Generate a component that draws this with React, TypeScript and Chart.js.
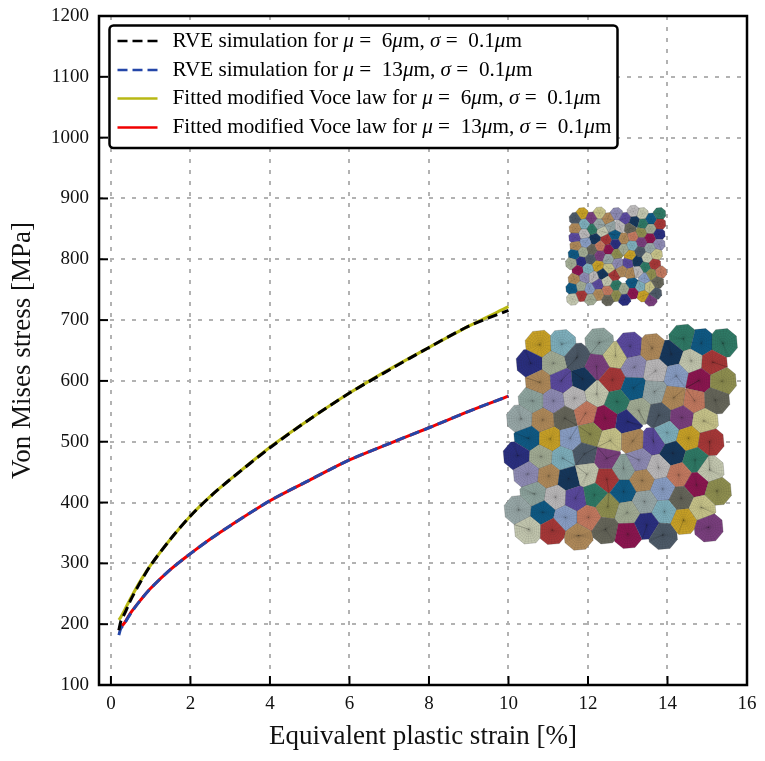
import React, { useEffect, useRef } from "react";
import { Chart, registerables } from "chart.js";

Chart.register(...registerables);

const SERIF = '"Liberation Serif", serif';

const strain = [0.2, 0.25, 0.35, 0.5, 0.75, 1, 1.5, 2, 2.5, 3, 4, 5, 6, 7, 8, 9, 10];
const rve6 = [190, 205, 218, 240, 270, 297, 340, 378, 410, 438, 490, 537, 580, 618, 655, 690, 716];
const rve13 = [182, 193, 202, 218, 240, 259, 290, 316, 340, 362, 403, 437, 470, 497, 523, 550, 575];
const voce6 = [207, 212, 224, 243, 272, 297, 340, 378, 410, 438, 491, 537, 580, 619, 655, 690, 722];
const voce13 = [190, 195, 203, 219, 240, 259, 290, 316, 340, 362, 403, 437, 470, 497, 523, 550, 575];

const seriesLabels = [
  "RVE simulation for μ =  6μm, σ =  0.1μm",
  "RVE simulation for μ =  13μm, σ =  0.1μm",
  "Fitted modified Voce law for μ =  6μm, σ =  0.1μm",
  "Fitted modified Voce law for μ =  13μm, σ =  0.1μm",
];

const xTitle = "Equivalent plastic strain [%]";
const yTitle = "Von Mises stress [MPa]";

const Y = "#c9a227", LB = "#7fb0bd", SG = "#8fa59f", SL = "#4d5a68", KH = "#c8c48a", PU = "#5b4a9f";
const TA = "#b08a5a", GR = "#2f7a66", BL = "#0f5a85", NV = "#2a2f80", SA = "#a3ad95", PM = "#7a3f7e";
const LV = "#8f8cb5", LG = "#bcbabb", DN = "#15375c", PA = "#c4c8b0", RD = "#a83838", PE = "#8a9fc6";
const MR = "#8c1550", OL = "#8f8f50", SM = "#c47a60", DO = "#66665a", GY = "#98a8a8";

// Mosaic cells: [across, down, colour], in units of a third of a pixel.
const bigCells: [number, number, string][] = [
  [181,465,Y],[247,463,LB],[360,458,SG],[292,503,SL],[408,497,KH],[452,470,PU],[518,475,TA],[612,447,GR],[665,460,BL],[730,460,GR],
  [154,520,NV],[222,520,SA],[351,530,PM],[465,532,LV],[528,543,LG],[575,492,DN],[635,513,PA],[700,517,RD],
  [181,577,TA],[245,573,PU],[310,567,DN],[398,570,RD],[462,594,BL],[590,558,PE],[658,572,MR],[727,574,OL],[525,605,GY],
  [160,633,SG],[222,633,LV],[285,625,LG],[352,612,PA],[412,635,GR],[583,623,TA],[645,632,SM],[707,630,DO],[478,662,SA],[538,676,SL],
  [125,687,GY],[190,690,TA],[256,685,DO],[318,670,SM],[377,685,MR],[445,695,NV],[607,683,PM],[673,693,KH],
  [147,745,BL],[212,747,Y],[272,745,PE],[332,733,OL],[392,752,KH],[460,753,TA],[522,755,PU],[562,728,LB],[627,745,Y],[690,755,RD],
  [115,797,NV],[185,800,SA],[250,805,LB],[315,792,SL],[382,805,PM],[478,810,LV],[580,790,DN],[647,810,GR],[432,835,SG],[537,833,LG],[598,855,SM],[690,840,PA],
  [145,852,LV],[208,858,TA],[268,866,DN],[322,853,PA],[382,868,RD],[488,872,TA],[550,897,PE],[651,885,MR],
  [165,912,SG],[228,922,LG],[288,925,PU],[345,915,GR],[385,950,OL],[432,905,BL],[495,935,GY],[605,925,DO],[712,903,OL],
  [118,960,GY],[190,967,BL],[258,983,PE],[327,983,SM],[443,968,SA],[555,965,LB],[665,953,KH],
  [148,1018,PA],[218,1020,RD],[297,1037,TA],[378,1018,DO],[445,1032,MR],[502,1005,NV],[550,1035,SL],[612,990,Y],[687,1012,PM],
];

const smallCells: [number, number, string][] = [
  [308,72,Y],[360,70,KH],[411,72,LV],[462,65,LG],[488,72,PA],[540,72,GR],
  [288,86,SL],[335,85,PM],[385,87,TA],[437,86,PU],[465,95,DN],[490,102,GR],[515,88,BL],[540,102,RD],
  [315,103,LB],[358,104,GY],[395,110,GY],[288,116,TA],[338,118,GR],[368,125,PA],[420,110,LG],[452,115,DO],[486,128,OL],[513,117,SA],[538,133,NV],
  [287,143,PU],[314,132,LG],[347,147,DN],[380,150,RD],[406,135,BL],[433,147,TA],[460,140,SM],[486,157,PM],[512,145,MR],[538,163,LV],
  [290,168,TA],[318,158,PE],[337,180,DO],[362,168,SM],[388,178,MR],[408,162,NV],[432,178,SA],[458,167,LB],[482,185,SL],[512,175,GY],
  [285,193,BL],[311,187,SA],[360,198,PM],[387,208,GY],[412,192,OL],[452,196,Y],[503,203,PA],[530,193,KH],
  [277,220,SA],[305,215,NV],[333,207,SL],[355,228,Y],[388,235,KH],[415,220,LV],[445,220,PU],[474,214,DN],[497,232,GR],[525,223,RD],
  [296,241,MR],[325,237,LB],[342,262,LG],[315,263,LV],[370,252,DN],[403,257,RD],[427,243,TA],[453,250,TA],[476,245,LG],[495,265,PE],[516,253,OL],[543,247,SM],
  [285,268,TA],[305,290,SA],[330,297,PE],[355,283,PU],[383,274,PA],[408,287,GR],[433,298,SA],[458,280,BL],[483,290,LB],[510,292,KH],[534,277,DO],
  [278,296,BL],[280,327,PA],[307,316,RD],[333,327,SA],[358,313,TA],[385,303,SM],[385,329,DO],[410,316,OL],[435,328,NV],[460,309,MR],[491,317,Y],[514,330,PM],[528,310,SL],
];

type Pt = [number, number];

function clipHalf(poly: Pt[], a: Pt, b: Pt): Pt[] {
  const mx = (a[0] + b[0]) / 2, my = (a[1] + b[1]) / 2;
  const nx = b[0] - a[0], ny = b[1] - a[1];
  const side = (p: Pt) => (p[0] - mx) * nx + (p[1] - my) * ny;
  const out: Pt[] = [];
  for (let i = 0; i < poly.length; i++) {
    const p = poly[i], q = poly[(i + 1) % poly.length];
    const sp = side(p), sq = side(q);
    if (sp <= 0) out.push(p);
    if (sp * sq < 0) {
      const t = sp / (sp - sq);
      out.push([p[0] + (q[0] - p[0]) * t, p[1] + (q[1] - p[1]) * t]);
    }
  }
  return out;
}

function drawMosaic(ctx: CanvasRenderingContext2D, ox: number, oy: number, cells: [number, number, string][], radius: number, rings: number, spokes: number) {
  const s = 1 / 3;
  ctx.save();
  cells.forEach(([cx, cy, colour], idx) => {
    let poly: Pt[] = [];
    for (let k = 0; k < 8; k++) {
      const a = (k / 8) * Math.PI * 2 + 0.3;
      poly.push([cx + Math.cos(a) * radius, cy + Math.sin(a) * radius]);
    }
    cells.forEach(([ox2, oy2], j) => {
      if (j !== idx) poly = clipHalf(poly, [cx, cy], [ox2, oy2]);
    });
    if (poly.length < 3) return;
    const px = (p: Pt): Pt => [ox + p[0] * s, oy + p[1] * s];
    ctx.beginPath();
    poly.forEach((p, i) => {
      const [x, y] = px(p);
      if (i) ctx.lineTo(x, y); else ctx.moveTo(x, y);
    });
    ctx.closePath();
    ctx.fillStyle = colour;
    ctx.fill();
    ctx.strokeStyle = "rgba(30,30,30,0.4)";
    ctx.lineWidth = 0.5;
    ctx.stroke();
    ctx.strokeStyle = "rgba(20,20,20,0.2)";
    ctx.lineWidth = 0.4;
    for (let r = 1; r <= rings; r++) {
      const f = r / (rings + 1);
      ctx.beginPath();
      poly.forEach((p, i) => {
        const [x, y] = px([cx + (p[0] - cx) * f, cy + (p[1] - cy) * f]);
        if (i) ctx.lineTo(x, y); else ctx.moveTo(x, y);
      });
      ctx.closePath();
      ctx.stroke();
    }
    ctx.beginPath();
    poly.forEach((p, i) => {
      const q = poly[(i + 1) % poly.length];
      for (let k = 0; k < spokes; k++) {
        const t = k / spokes;
        const [x0, y0] = px([cx, cy]);
        const [x1, y1] = px([p[0] + (q[0] - p[0]) * t, p[1] + (q[1] - p[1]) * t]);
        ctx.moveTo(x0, y0);
        ctx.lineTo(x1, y1);
      }
    });
    ctx.stroke();
  });
  ctx.restore();
}

const mosaicPlugin = {
  id: "mosaic",
  beforeDatasetsDraw(chart: any) {
    const { ctx, scales } = chart;
    // the crop origin of the cell tables, given in axis units
    const ox = scales.x.getPixelForValue(9.271);
    const oy = scales.y.getPixelForValue(914);
    drawMosaic(ctx, ox, oy, smallCells, 20, 1, 1);
    drawMosaic(ctx, ox, oy, bigCells, 46, 5, 3);
  },
};

const framePlugin = {
  id: "frame",
  afterDatasetsDraw(chart: any) {
    const { ctx, chartArea: a, scales } = chart;
    ctx.save();
    ctx.strokeStyle = "#000";
    ctx.lineWidth = 2;
    scales.x.ticks.forEach((t: any) => {
      const x = scales.x.getPixelForValue(t.value);
      ctx.beginPath();
      ctx.moveTo(x, a.bottom);
      ctx.lineTo(x, a.bottom - 9);
      ctx.stroke();
    });
    scales.y.ticks.forEach((t: any) => {
      const y = scales.y.getPixelForValue(t.value);
      ctx.beginPath();
      ctx.moveTo(a.left, y);
      ctx.lineTo(a.left + 9, y);
      ctx.stroke();
    });
    ctx.lineWidth = 2.5;
    ctx.strokeRect(a.left, a.top, a.right - a.left, a.bottom - a.top);
    ctx.restore();
  },
};

const legendPlugin = {
  id: "boxLegend",
  afterDraw(chart: any) {
    const { ctx } = chart;
    const a = chart.chartArea;
    const left = a.left + 10.5, top = a.top + 9.5, w = 508, h = 122.5;
    ctx.save();
    ctx.beginPath();
    ctx.roundRect(left, top, w, h, 4);
    ctx.fillStyle = "#fff";
    ctx.fill();
    ctx.strokeStyle = "#000";
    ctx.lineWidth = 2.5;
    ctx.stroke();
    const rows = [top + 15.5, top + 44.5, top + 73, top + 102];
    chart.data.datasets.forEach((ds: any, i: number) => {
      const y = rows[i];
      ctx.beginPath();
      ctx.setLineDash(ds.borderDash || []);
      ctx.strokeStyle = ds.borderColor;
      ctx.lineWidth = 2.5;
      ctx.moveTo(left + 8, y);
      ctx.lineTo(left + 48, y);
      ctx.stroke();
      ctx.setLineDash([]);
      let x = left + 63;
      ctx.fillStyle = "#000";
      ctx.textBaseline = "middle";
      ctx.textAlign = "left";
      ds.label.split(/([μσ])/).forEach((part: string) => {
        if (!part) return;
        ctx.font = (part === "μ" || part === "σ" ? "italic " : "") + `21.2px ${SERIF}`;
        ctx.fillText(part, x, y);
        x += ctx.measureText(part).width;
      });
    });
    ctx.restore();
  },
};

export default function App() {
  const ref = useRef<HTMLCanvasElement | null>(null);
  useEffect(() => {
    document.body.style.margin = "0";
    document.body.style.background = "#fff";
    const line = (label: string, data: number[], color: string, dash: number[]) => ({
      label,
      data: data.map((v, i) => ({ x: strain[i], y: v })),
      borderColor: color,
      borderWidth: 3,
      borderDash: dash,
      pointRadius: 0,
      tension: 0.3,
      fill: false,
    });
    const chart = new Chart(ref.current as HTMLCanvasElement, {
      type: "line",
      data: {
        datasets: [
          line(seriesLabels[0], rve6, "#000000", [10, 5]),
          line(seriesLabels[1], rve13, "#2446a8", [10, 5]),
          line(seriesLabels[2], voce6, "#b8b814", []),
          line(seriesLabels[3], voce13, "#f00000", []),
        ],
      },
      options: {
        responsive: false,
        animation: false,
        devicePixelRatio: 1,
        layout: { padding: { top: 16, right: 18, left: 0, bottom: 0 } },
        plugins: { legend: { display: false }, tooltip: { enabled: false } },
        scales: {
          x: {
            type: "linear",
            min: -0.3,
            max: 16,
            afterFit: (s: any) => { s.height = 76; s.paddingLeft = 0; s.paddingRight = 0; },
            grid: { color: "#b2b2b2", lineWidth: 2, drawTicks: false },
            border: { display: false, dash: [4, 7] },
            ticks: { stepSize: 2, includeBounds: false, maxRotation: 0, font: { family: SERIF, size: 19 }, color: "#111", padding: 8 },
            title: { display: true, text: xTitle, font: { family: SERIF, size: 27 }, color: "#111", padding: { top: 8, bottom: 8 } },
          },
          y: {
            type: "linear",
            min: 100,
            max: 1200,
            afterFit: (s: any) => { s.width = 99; s.paddingTop = 0; s.paddingBottom = 0; },
            grid: { color: "#b2b2b2", lineWidth: 2, drawTicks: false },
            border: { display: false, dash: [4, 7] },
            ticks: {
              stepSize: 100,
              font: { family: SERIF, size: 19 },
              color: "#111",
              padding: 10,
              callback: (v: any) => String(v),
            },
            title: { display: true, text: yTitle, font: { family: SERIF, size: 27 }, color: "#111", padding: { top: 7, bottom: 6 } },
          },
        },
      } as any,
      plugins: [mosaicPlugin, framePlugin, legendPlugin],
    });
    return () => chart.destroy();
  }, []);
  return <canvas ref={ref} width={765} height={761} style={{ display: "block", width: 765, height: 761 }} />;
}
